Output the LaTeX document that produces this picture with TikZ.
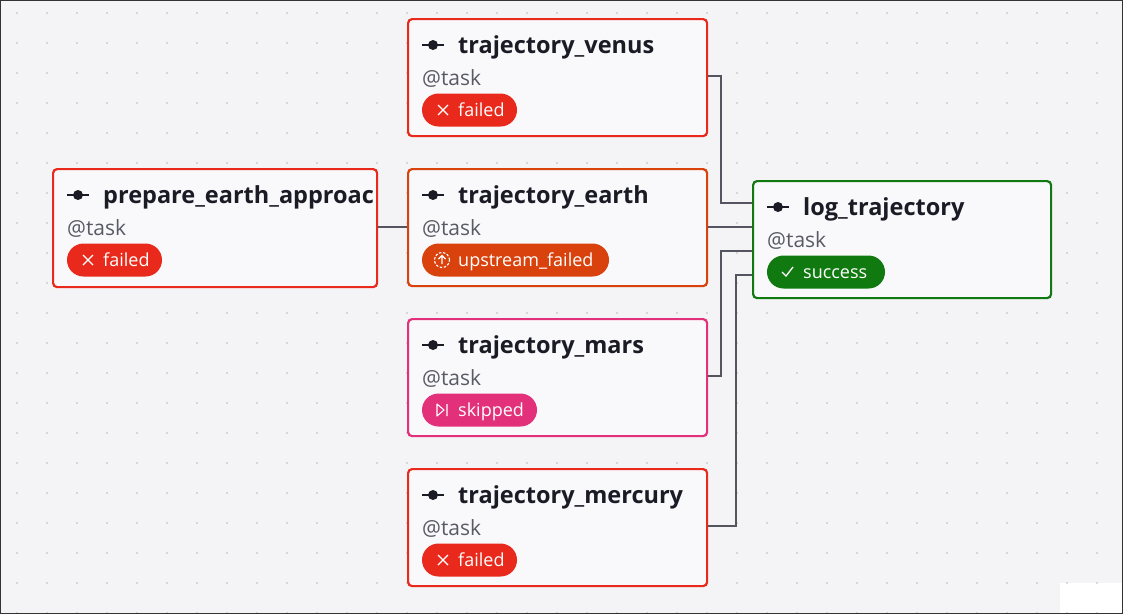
\documentclass[tikz,border=0pt]{standalone}
\usepackage{fontspec}
\setmainfont{Open Sans}
\begin{document}
\begin{tikzpicture}[x=1pt,y=-1pt,
  box/.style={draw=#1,line width=2.2pt,rounded corners=4pt,fill=boxbg},
  ttl/.style={anchor=base west,font=\fontsize{23.5}{26}\selectfont\bfseries,text=ink,inner sep=0},
  sub/.style={anchor=base west,font=\fontsize{21}{24}\selectfont,text=subink,inner sep=0},
  btxt/.style={anchor=base west,text=white,font=\fontsize{18}{20}\selectfont,inner sep=0pt},
  wire/.style={draw=wirec,line width=1.3pt}]
\definecolor{bg}{HTML}{F4F4F6}
\definecolor{boxbg}{HTML}{F9F9FB}
\definecolor{ink}{HTML}{1B1B26}
\definecolor{subink}{HTML}{5A5A66}
\definecolor{wirec}{HTML}{55555F}
\definecolor{cred}{HTML}{E8291B}
\definecolor{corange}{HTML}{D9420C}
\definecolor{cpink}{HTML}{E3307A}
\definecolor{cgreen}{HTML}{107A10}
\useasboundingbox (0,0) rectangle (1123,614);
\fill[bg] (0,0) rectangle (1123,614);
\fill[white] (1060,583) rectangle (1123,614);
\foreach \i in {0,...,37}{\foreach \j in {0,...,20}{
  \fill[black!55] (17+30*\i,13+30*\j) circle (0.7pt);}}
\draw[black!80,line width=1pt] (0.5,0.5) rectangle (1122.5,613.5);
\newcommand\tkicon[2]{\draw[ink,line width=2.2pt] (#1-11,#2)--(#1+11,#2);\fill[ink] (#1,#2) circle (5pt);}
\newcommand\tknode[7]{%
  \node[box=#7,minimum width=#4-#2,minimum height=#5-#3,anchor=north west,inner sep=0] (#1) at (#2,#3) {};
  \begin{scope}
  \clip (#2+2,#3) rectangle (#4-2,#5);
  \tkicon{#2+26}{#3+27}
  \node[ttl] (#1t) at (#2+51,#3+35) {#6};
  \end{scope}
  \node[sub] (#1s) at (#2+15,#3+67) {@task};}
\tknode{venus}{407}{18}{706}{135}{trajectory\_venus}{cred}
\tknode{earth}{407}{168}{706}{285}{trajectory\_earth}{corange}
\tknode{mars}{407}{318}{706}{435}{trajectory\_mars}{cpink}
\tknode{mercury}{407}{468}{706}{585}{trajectory\_mercury}{cred}
\tknode{prep}{52}{168}{376}{286}{prepare\_earth\_approach}{cred}
\tknode{log}{752}{180}{1050}{297}{log\_trajectory}{cgreen}
\newcommand\tkbadge[6]{\fill[#5,rounded corners=16.5pt] (#2,#3-16.5) rectangle (#2+#4,#3+16.5);
  \node[btxt] (#1) at (#2+36,#3+6.5) {#6};}
\newcommand\failbadge[3]{\tkbadge{#1}{#2}{#3}{95}{cred}{failed}
  \draw[white,line width=1.2pt] (#2+16,#3-5)--(#2+26,#3+5) (#2+16,#3+5)--(#2+26,#3-5);}
\failbadge{bv}{422}{110}
\failbadge{bm}{422}{560}
\failbadge{bp}{67}{260}
\tkbadge{be}{422}{260}{187}{corange}{upstream\_failed}
\draw[white,line width=1.1pt,dash pattern=on 2.5pt off 1.6pt] (442,260) circle (7.5pt);
\draw[white,line width=1.1pt] (442,264)--(442,256) (438.5,259)--(442,255.5)--(445.5,259);
\tkbadge{bs}{422}{410}{115}{cpink}{skipped}
\draw[white,line width=1.1pt,line join=round] (437,404)--(444,410)--(437,416)--cycle (447,404)--(447,416);
\tkbadge{bg}{767}{272}{118}{cgreen}{success}
\draw[white,line width=1.3pt] (782,272)--(786,276)--(793,267);
\draw[wire] (prep.east |- 0,227) -- (earth.west |- 0,227);
\draw[wire] (venus.east |- 0,76) -| (721,203) -- (log.west |- 0,203);
\draw[wire] (earth.east |- 0,227) -- (log.west |- 0,227);
\draw[wire] (mars.east |- 0,376) -| (721,251) -- (log.west |- 0,251);
\draw[wire] (mercury.east |- 0,526) -| (736,275) -- (log.west |- 0,275);
\end{tikzpicture}
\end{document}
